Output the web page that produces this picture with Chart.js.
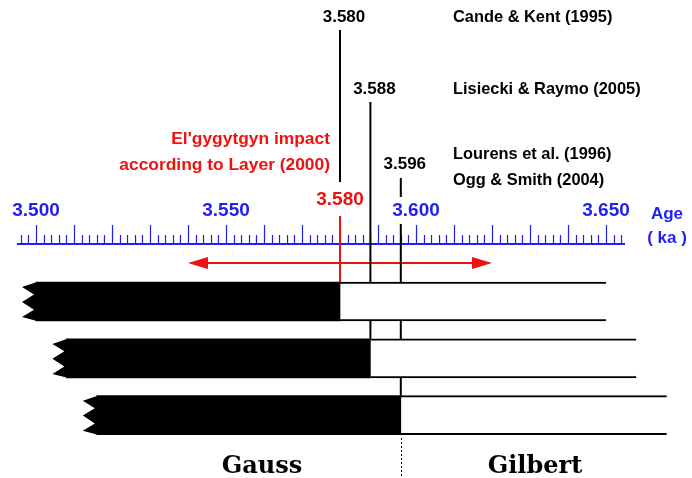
<!DOCTYPE html>
<html>
<head>
<meta charset="utf-8">
<script src="https://cdn.jsdelivr.net/npm/chart.js@4.4.1/dist/chart.umd.min.js"></script>
<style>
  html, body { margin: 0; padding: 0; background: #fff; }
  canvas { display: block; }
</style>
</head>
<body>
<canvas id="chart" width="692" height="478"></canvas>
<script>
// Gauss/Gilbert boundary age (Ma) according to each source
const boundaryAges = [3.580, 3.588, 3.596];
const boundaryLabels = ['3.580', '3.588', '3.596'];
const sources = [
  ['Cande & Kent (1995)'],
  ['Lisiecki & Raymo (2005)'],
  ['Lourens et al. (1996)', 'Ogg & Smith (2004)']
];

// one row per boundary: black (normal) from rowStart, white (reversed) up to rowEnd
const rows = [1, 2, 3];
const rowStart = [3.500, 3.508, 3.516];
const rowEnd = [3.650, 3.658, 3.666];

// El'gygytgyn impact and the span of the arrow around it
const impactAge = 3.580;
const impactLabel = ["El'gygytgyn impact", 'according to Layer (2000)'];
const impactRange = [3.540, 3.620];

// age axis
const tickLabels = ['3.500', '3.550', '3.600', '3.650'];
const axisRange = [3.495, 3.655];
const tickFirst = 3.496, tickLast = 3.654;
const minorStep = 0.002, majorStep = 0.01;

const chronLabels = ['Gauss', 'Gilbert'];

// layout (pixels / scale settings)
const PX_PER_MA = 3800;
const X_MIN = 3.5 - 36 / PX_PER_MA;
const X_MAX = X_MIN + 692 / PX_PER_MA;
const ROW_H = 39, ROW1_Y = 301.5, ROW_GAP = 56.85;
const Y_MIN = 1 - ROW1_Y / ROW_GAP;
const Y_MAX = Y_MIN + 478 / ROW_GAP;

const BLUE = '#1f1ff5';
const RED = '#f01010';
const SANS = '"Liberation Sans", Arial, sans-serif';
const SERIF = '"DejaVu Serif", Georgia, serif';

const timescale = {
  id: 'timescale',
  beforeDatasetsDraw(chart) {
    const ctx = chart.ctx;
    const px = v => chart.scales.x.getPixelForValue(v);
    const rowTop = i => chart.scales.y.getPixelForValue(rows[i]) - ROW_H / 2;
    const baseY = 244;
    ctx.save();

    // axis line and ticks
    ctx.strokeStyle = BLUE;
    ctx.lineWidth = 1.8;
    ctx.beginPath();
    ctx.moveTo(px(axisRange[0]), baseY);
    ctx.lineTo(px(axisRange[1]), baseY);
    ctx.stroke();
    ctx.lineWidth = 1.2;
    const n = Math.round((tickLast - tickFirst) / minorStep);
    for (let k = 0; k <= n; k++) {
      const v = tickFirst + k * minorStep;
      const major = Math.abs(v / majorStep - Math.round(v / majorStep)) < 1e-6;
      const x = Math.round(px(v)) + 0.5;
      ctx.beginPath();
      ctx.moveTo(x, baseY);
      ctx.lineTo(x, baseY - (major ? 19 : 9));
      ctx.stroke();
    }
    ctx.fillStyle = BLUE;
    ctx.font = 'bold 19px ' + SANS;
    ctx.textAlign = 'center';
    ctx.textBaseline = 'middle';
    tickLabels.forEach(t => ctx.fillText(t, px(parseFloat(t)), 211));
    ctx.font = 'bold 17px ' + SANS;
    ctx.fillText('Age', 667, 214);
    ctx.fillText('( ka )', 667, 238);

    // impact arrow
    const ay = 263, head = 20, hw = 6;
    const ax0 = px(impactRange[0]), ax1 = px(impactRange[1]);
    ctx.strokeStyle = RED;
    ctx.fillStyle = RED;
    ctx.lineWidth = 2;
    ctx.beginPath();
    ctx.moveTo(ax0 + head, ay);
    ctx.lineTo(ax1 - head, ay);
    ctx.stroke();
    ctx.beginPath();
    ctx.moveTo(ax0, ay); ctx.lineTo(ax0 + head, ay - hw); ctx.lineTo(ax0 + head, ay + hw);
    ctx.closePath(); ctx.fill();
    ctx.beginPath();
    ctx.moveTo(ax1, ay); ctx.lineTo(ax1 - head, ay - hw); ctx.lineTo(ax1 - head, ay + hw);
    ctx.closePath(); ctx.fill();

    // impact line
    const xi = px(impactAge);
    ctx.beginPath();
    ctx.moveTo(xi, 216);
    ctx.lineTo(xi, rowTop(0));
    ctx.stroke();

    // boundary lines per source (label gap on the last one)
    const lineTop = [30, 102, 178];
    ctx.strokeStyle = '#000';
    boundaryAges.forEach((a, i) => {
      const x = px(a);
      ctx.beginPath();
      if (i === 0) {
        ctx.moveTo(x, lineTop[i]); ctx.lineTo(x, 182);
      } else if (i === 2) {
        ctx.moveTo(x, lineTop[i]); ctx.lineTo(x, 197);
        ctx.moveTo(x, 224); ctx.lineTo(x, rowTop(i));
      } else {
        ctx.moveTo(x, lineTop[i]); ctx.lineTo(x, rowTop(i));
      }
      ctx.stroke();
    });

    // Gauss / Gilbert boundary, dotted
    ctx.lineWidth = 1;
    ctx.setLineDash([2, 2]);
    ctx.beginPath();
    const xd = Math.round(px(boundaryAges[2])) + 0.5;
    ctx.moveTo(xd, 438);
    ctx.lineTo(xd, 478);
    ctx.stroke();
    ctx.restore();
  },
  afterDatasetsDraw(chart) {
    const ctx = chart.ctx;
    const px = v => chart.scales.x.getPixelForValue(v);
    ctx.save();

    // broken (zig-zag) left ends of the black bars
    ctx.fillStyle = '#000';
    chart.getDatasetMeta(0).data.forEach(bar => {
      const b = Math.min(bar.base, bar.x);
      const top = bar.y - bar.height / 2, h = bar.height;
      ctx.beginPath();
      ctx.moveTo(b + 1, top);
      ctx.lineTo(b - 14, top + 0.13 * h);
      ctx.lineTo(b - 2, top + 0.32 * h);
      ctx.lineTo(b - 14, top + 0.51 * h);
      ctx.lineTo(b - 2, top + 0.71 * h);
      ctx.lineTo(b - 14, top + 0.90 * h);
      ctx.lineTo(b + 1, top + h);
      ctx.closePath();
      ctx.fill();
    });

    // boundary values and sources
    ctx.fillStyle = '#000';
    ctx.font = 'bold 17px ' + SANS;
    ctx.textAlign = 'center';
    ctx.textBaseline = 'middle';
    const labelY = [17, 89, 164];
    boundaryAges.forEach((a, i) => ctx.fillText(boundaryLabels[i], px(a) + 4, labelY[i]));
    ctx.textAlign = 'left';
    ctx.font = 'bold 16.4px ' + SANS;
    const srcY = [[17], [89], [154, 180]];
    sources.forEach((s, i) => s.forEach((t, j) => ctx.fillText(t, 453, srcY[i][j])));

    // impact text
    ctx.fillStyle = RED;
    ctx.font = 'bold 17.4px ' + SANS;
    ctx.textAlign = 'right';
    ctx.fillText(impactLabel[0], 330, 139);
    ctx.fillText(impactLabel[1], 330, 165);
    ctx.textAlign = 'center';
    ctx.font = 'bold 19px ' + SANS;
    ctx.fillText(impactAge.toFixed(3), px(impactAge), 200);

    // chron names
    ctx.fillStyle = '#000';
    ctx.font = 'bold 24px ' + SERIF;
    ctx.fillText(chronLabels[0], 262, 467);
    ctx.fillText(chronLabels[1], 535, 467);
    ctx.restore();
  }
};

new Chart(document.getElementById('chart'), {
  type: 'bar',
  data: {
    datasets: [
      {
        label: 'Normal polarity',
        data: rows.map((r, i) => ({ y: r, x: [rowStart[i], boundaryAges[i]] })),
        backgroundColor: '#000',
        borderWidth: 0
      },
      {
        label: 'Reversed polarity',
        data: rows.map((r, i) => ({ y: r, x: [boundaryAges[i], rowEnd[i]] })),
        backgroundColor: '#fff',
        borderColor: '#000',
        borderWidth: { top: 2, bottom: 2, left: 0, right: 0 },
        borderSkipped: false
      }
    ]
  },
  options: {
    indexAxis: 'y',
    responsive: false,
    animation: false,
    events: [],
    layout: { padding: 0 },
    datasets: { bar: { grouped: false, barThickness: ROW_H } },
    plugins: { legend: { display: false }, tooltip: { enabled: false } },
    scales: {
      x: { type: 'linear', min: X_MIN, max: X_MAX, display: false, offset: false },
      y: { type: 'linear', min: Y_MIN, max: Y_MAX, reverse: true, display: false, offset: false }
    }
  },
  plugins: [timescale]
});
</script>
</body>
</html>
